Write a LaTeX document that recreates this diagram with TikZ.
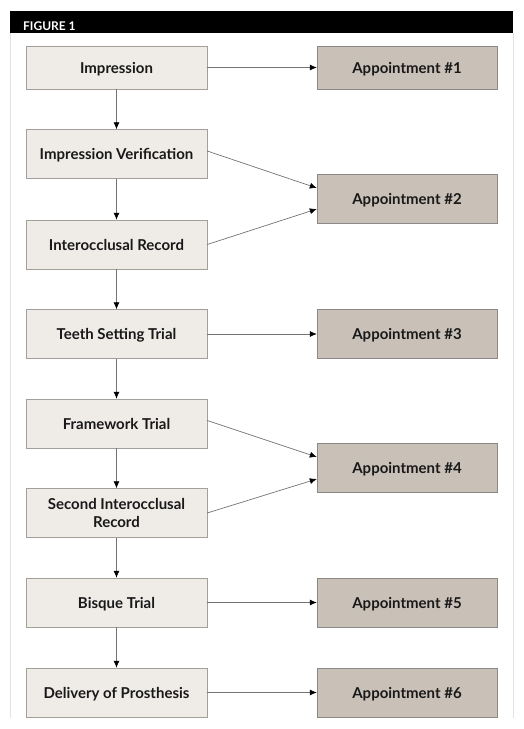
\documentclass[tikz,border=0pt]{standalone}
\usepackage{fontspec}
\setmainfont{Lato}
\usetikzlibrary{arrows.meta}
\definecolor{stepfill}{HTML}{EFECE8}
\definecolor{apptfill}{HTML}{C9C1B8}
\definecolor{boxline}{HTML}{A3A09C}
\definecolor{frameline}{HTML}{E2E2E2}

\begin{document}
\begin{tikzpicture}[x=1pt, y=-1pt,
  stepbox/.style = {draw=boxline, fill=stepfill, minimum width=181pt, minimum height=49pt,
    inner sep=0pt, align=center, text=black!90, text height=11pt, text depth=0pt,
    font=\fontsize{15}{18.3}\selectfont\bfseries},
  apptbox/.style = {stepbox, fill=apptfill, draw=boxline!85!black, minimum width=180pt},
  flow/.style = {draw=black!55, line width=0.7pt, -{Latex[length=7pt,width=6pt,black]}}]
\useasboundingbox (0,0) rectangle (524,729);
%\fill [white] (0,0) rectangle (524,729);
\fill [black] (9.5,11) rectangle (513,33);
\draw [frameline, line width=1pt] (10,33) -- (10,718);
\draw [frameline, line width=1pt] (513,33) -- (513,718);
\node [white, anchor=base west, inner sep=0pt, font=\fontsize{12}{14}\selectfont\bfseries] (fig) at (23,30) {FIGURE 1};

% left column
\node [stepbox, minimum height=42.5pt] (impr) at (116.5,67.5) {Impression};
\node [stepbox] (verif) at (116.5,154) {Impression Verification};
\node [stepbox] (inter) at (116.5,244.5) {Interocclusal Record};
\node [stepbox] (teeth) at (116.5,334) {Teeth Setting Trial};
\node [stepbox] (frame) at (116.5,423.5) {Framework Trial};
\node [stepbox, text height=29.3pt] (second) at (116.5,513) {Second Interocclusal\\Record};
\node [stepbox] (bisque) at (116.5,602.5) {Bisque Trial};
\node [stepbox] (deliv) at (116.5,692.5) {Delivery of Prosthesis};

% right column
\node [apptbox, minimum height=42.5pt] (app1) at (407,67.5) {Appointment \#1};
\node [apptbox] (app2) at (407,198.5) {Appointment \#2};
\node [apptbox] (app3) at (407,334) {Appointment \#3};
\node [apptbox] (app4) at (407,468) {Appointment \#4};
\node [apptbox] (app5) at (407,602.5) {Appointment \#5};
\node [apptbox] (app6) at (407,692.5) {Appointment \#6};

\draw [flow] (impr) -- (verif);
\draw [flow] (verif) -- (inter);
\draw [flow] (inter) -- (teeth);
\draw [flow] (teeth) -- (frame);
\draw [flow] (frame) -- (second);
\draw [flow] (second) -- (bisque);
\draw [flow] (bisque) -- (deliv);

\draw [flow] (impr) -- (app1);
\draw [flow] ([yshift=3pt]verif.east) -- ([yshift=10.5pt]app2.west);
\draw [flow] (inter.east) -- ([yshift=-10.5pt]app2.west);
\draw [flow] (teeth) -- (app3);
\draw [flow] ([yshift=3pt]frame.east) -- ([yshift=11pt]app4.west);
\draw [flow] (second.east) -- ([yshift=-11pt]app4.west);
\draw [flow] (bisque) -- (app5);
\draw [flow] (deliv) -- (app6);
\end{tikzpicture}
\end{document}
